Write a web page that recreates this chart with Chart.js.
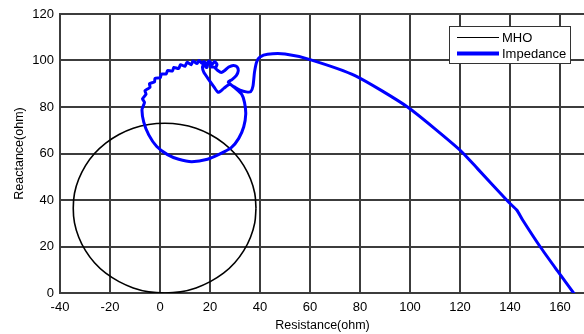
<!DOCTYPE html>
<html>
<head>
<meta charset="utf-8">
<script src="https://cdn.jsdelivr.net/npm/chart.js@4/dist/chart.umd.min.js"></script>
<style>
  html, body { margin: 0; padding: 0; background: #fff; overflow: hidden; }
  #wrap { width: 592px; height: 334px; }
</style>
</head>
<body>
<div id="wrap"><canvas id="chart" width="592" height="334"></canvas></div>
<script>
const mhoR = [38.4, 37.9, 36.2, 33.5, 29.9, 25.4, 20.1, 14.4, 8.2, 1.9, -4.5, -10.7, -16.4, -21.7, -26.2, -29.8, -32.5, -34.2, -34.7,
  -34.2, -32.5, -29.8, -26.2, -21.7, -16.4, -10.7, -4.5, 1.9, 8.2, 14.4, 20.1, 25.4, 29.9, 33.5, 36.2, 37.9, 38.4];
const mhoX = [36.5, 42.9, 49.0, 54.8, 60.0, 64.5, 68.2, 70.9, 72.5, 73.0, 72.5, 70.9, 68.2, 64.5, 60.0, 54.8, 49.0, 42.9, 36.5,
  30.2, 24.0, 18.2, 13.0, 8.5, 4.9, 2.2, 0.5, 0.0, 0.5, 2.2, 4.9, 8.5, 13.0, 18.2, 24.0, 30.2, 36.5];

// impedance trajectory (R, X)
const impR = [166, 159, 152, 145, 142.7, 139.5, 127, 120, 99, 78, 60, 50, 43, 40, 38.7, 37.8, 37.2, 36.3, 34.5, 32, 29.5, 27.8,
  25.5, 23.3, 21.5, 19.5, 17.5, 17, 17.8, 19, 18.8, 18.2, 19.5, 20.6, 20.3, 21.5, 23, 24.5, 26, 27.5, 29.3, 30.8, 31.3, 30.5,
  28.8, 27.3, 30, 32.7, 33.8, 34.3, 33.5, 31.5, 28.5, 24, 19, 12.7, 7.5, 3, -1.3, -4.5, -6.5, -7.2,
  -6.2, -7, -5.6, -6, -4, -4.2, -2.2, -2, 0.2, 0.5, 2.5, 3, 5, 5.5, 7.5, 8.2, 10, 10.8, 12.5, 13.2, 14.8, 15.6, 16.8, 17.5,
  18.8, 19.6, 21, 21.8, 22.8, 22.3];
const impX = [-0.8, 9.5, 20, 31.5, 35.7, 39, 53.5, 61.5, 80, 93.5, 100.4, 102.8, 102.7, 101.5, 99.5, 95, 89, 86.6, 86.5, 87.3, 88.8, 89.8,
  88, 86.3, 88.8, 91.8, 95, 97.3, 98.8, 98.5, 97, 97.3, 98.8, 98.6, 97.2, 97.2, 95.8, 94.8, 95.8, 97.2, 97.9, 97.3, 95.5, 93.5,
  91.8, 90.8, 88.2, 85.4, 82, 77, 71.5, 66.5, 62.5, 59.8, 57.5, 56.5, 57.5, 59.5, 63, 68, 73.5, 78.9,
  82, 83.5, 85.5, 87, 88.5, 90, 90.8, 92.3, 92.7, 94.2, 94.2, 95.7, 95.5, 97, 96.6, 98.2, 97.5, 99.2, 98.2, 99.8, 98.7, 100, 98.8, 99.6,
  98.5, 99.8, 98.5, 99.6, 98.3, 97];

const xTicks = [-40, 160, 20]; // min, last labelled, step
const yTicks = [0, 120, 20];

const toPts = (xs, ys) => xs.map((x, i) => ({ x: x, y: ys[i] }));

Chart.defaults.font.family = "'Liberation Sans', Arial, sans-serif";
Chart.defaults.font.size = 13;
Chart.defaults.color = "#000";

// legend box drawn like the original (inside the plot, top right)
const boxLegend = {
  id: "boxLegend",
  afterDraw(chart) {
    const ctx = chart.ctx;
    const x0 = 449.5, y0 = 26.5, w = 121, h = 37;
    ctx.save();
    ctx.fillStyle = "#fff";
    ctx.fillRect(x0, y0, w, h);
    ctx.strokeStyle = "#333";
    ctx.lineWidth = 1;
    ctx.strokeRect(x0, y0, w, h);
    chart.data.datasets.forEach((ds, i) => {
      const y = 37.5 + i * 16;
      ctx.strokeStyle = ds.borderColor;
      ctx.lineWidth = ds.legendWidth;
      ctx.beginPath();
      ctx.moveTo(457, y);
      ctx.lineTo(499, y);
      ctx.stroke();
      ctx.fillStyle = "#000";
      ctx.font = "13px 'Liberation Sans', Arial, sans-serif";
      ctx.textBaseline = "middle";
      ctx.fillText(ds.label, 502, y + 0.5);
    });
    ctx.restore();
  },
};

new Chart(document.getElementById("chart"), {
  type: "scatter",
  data: {
    datasets: [
      {
        label: "MHO",
        data: toPts(mhoR, mhoX),
        showLine: true,
        borderColor: "#000",
        borderWidth: 1.6,
        legendWidth: 1.2,
        pointRadius: 0,
        tension: 0.4,
        order: 1,
      },
      {
        label: "Impedance",
        data: toPts(impR, impX),
        showLine: true,
        borderColor: "#0000ff",
        borderWidth: 3,
        legendWidth: 4,
        pointRadius: 0,
        tension: 0.2,
        order: 0,
      },
    ],
  },
  options: {
    responsive: false,
    animation: false,
    devicePixelRatio: 1,
    layout: { padding: { top: 14, right: 7, left: 0, bottom: 0 } },
    plugins: { legend: { display: false }, tooltip: { enabled: false } },
    scales: {
      x: {
        type: "linear",
        min: xTicks[0],
        max: 170,
        afterFit: (s) => { s.height = 41; },
        ticks: {
          stepSize: xTicks[2],
          includeBounds: false,
          padding: 7,
          callback: (v) => (v > xTicks[1] ? "" : v),
        },
        grid: { color: "#3c3c3c", lineWidth: 2, drawTicks: false },
        border: { color: "#3c3c3c", width: 2 },
        title: { display: true, text: "Resistance(ohm)", font: { size: 12.5 }, padding: { top: 0, bottom: 1 } },
      },
      y: {
        min: yTicks[0],
        max: yTicks[1],
        afterFit: (s) => { s.width = 60; },
        ticks: { stepSize: yTicks[2], padding: 6 },
        grid: { color: "#3c3c3c", lineWidth: 2, drawTicks: false },
        border: { color: "#3c3c3c", width: 2 },
        title: { display: true, text: "Reactance(ohm)", font: { size: 12.5 }, padding: { top: 12.5, bottom: 0 } },
      },
    },
  },
  plugins: [boxLegend],
});
</script>
</body>
</html>
